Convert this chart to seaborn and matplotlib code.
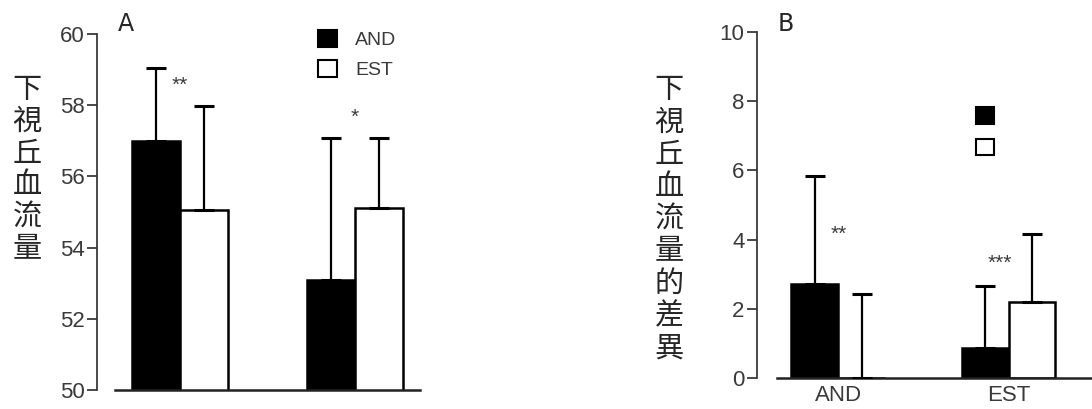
import numpy as np
import pandas as pd
import matplotlib
matplotlib.use("Agg")
import matplotlib.pyplot as plt
import matplotlib.patches as mpatches
import seaborn as sns

# data
groups = ["AND", "EST"]
treats = ["AND", "EST"]

a_mean_and = [57.0, 53.1]
a_mean_est = [55.05, 55.1]
a_err_and = [2.05, 3.97]
a_err_est = [2.92, 1.97]
a_stars = ["**", "*"]
a_star_y = [58.55, 57.65]

b_mean_and = [2.72, 0.87]
b_mean_est = [0.0, 2.2]
b_err_and = [3.13, 1.8]
b_err_est = [2.43, 1.96]
b_stars = ["**", "***"]
b_star_y = [4.15, 3.3]
b_star_x = [0.0, 0.95]

a_ticks = [50, 52, 54, 56, 58, 60]
b_ticks = [0, 2, 4, 6, 8, 10]

ylab_a = "下視丘血流量"
ylab_b = "下視丘血流量的差異"

sns.set_style("white")
plt.rcParams['font.family'] = ['Liberation Sans', 'Noto Sans CJK TC', 'DejaVu Sans']

gray = "#3a3a3a"
pal = {"AND": "black", "EST": "white"}

W, H = 1092, 409
fig = plt.figure(figsize=(W / 100, H / 100), dpi=100)


def px_axes(x0, x1, ytop, ybot):
    return fig.add_axes([x0 / W, 1 - ybot / H, (x1 - x0) / W, (ybot - ytop) / H])


def make_df(m_and, m_est, e_and, e_est):
    rows = []
    for i, g in enumerate(groups):
        rows.append((g, "AND", m_and[i], e_and[i]))
        rows.append((g, "EST", m_est[i], e_est[i]))
    return pd.DataFrame(rows, columns=["group", "treat", "value", "err"])


def draw_panel(ax, df, ylim, ticks, offset_px):
    sns.barplot(data=df, x="group", y="value", hue="treat", order=groups,
                hue_order=treats, palette=pal, edgecolor="black", linewidth=1.8,
                width=0.55, errorbar=None, legend=False, saturation=1, ax=ax)
    for lvl, cont in zip(treats, ax.containers):
        sub = df[df.treat == lvl].set_index("group").loc[groups]
        xs = [b.get_x() + b.get_width() / 2 for b in cont]
        ax.errorbar(xs, sub["value"].values,
                    yerr=[np.zeros(len(xs)), sub["err"].values],
                    fmt="none", ecolor="black", elinewidth=1.6,
                    capsize=7, capthick=2.2, zorder=3)
    ax.set_ylim(*ylim)
    ax.set_yticks(ticks)
    ax.set_xlabel("")
    ax.set_ylabel("")
    sns.despine(ax=ax, top=True, right=True)
    ax.spines["left"].set_position(("outward", offset_px * 72 / 100))
    ax.spines["left"].set_color(gray)
    ax.spines["left"].set_linewidth(1.3)
    ax.spines["bottom"].set_color("#222222")
    ax.spines["bottom"].set_linewidth(1.8)
    ax.tick_params(axis="y", direction="out", length=7, width=1.3, color=gray,
                   labelsize=16, labelcolor=gray, pad=2, left=True)
    ax.patch.set_alpha(0)


def stacked_label(text, xc, y_first, pitch):
    # one CJK character per row, top to bottom
    for k, ch in enumerate(text):
        fig.text(xc / W, 1 - (y_first + k * pitch) / H, ch, fontsize=21,
                 ha="center", va="center", family=["Noto Sans CJK TC", "DejaVu Sans"])


# panel A
axA = px_axes(115, 420, 34, 390)
dfA = make_df(a_mean_and, a_mean_est, a_err_and, a_err_est)
draw_panel(axA, dfA, (50, 60), a_ticks, 18)
axA.set_xlim(-0.37, 1.37)
axA.set_xticks([])
for i, s in enumerate(a_stars):
    axA.text(i, a_star_y[i], s, ha="center", va="center", fontsize=15, color=gray)

handles = [mpatches.Patch(facecolor=pal[t], edgecolor="black", linewidth=1.5) for t in treats]
legA = axA.legend(handles, treats, loc="upper left",
                  bbox_to_anchor=(318 / W, 1 - 30 / H), bbox_transform=fig.transFigure,
                  frameon=False, fontsize=14, handlelength=1.0, handleheight=1.0,
                  handletextpad=0.9, labelspacing=0.55, borderpad=0, borderaxespad=0)
for t in legA.get_texts():
    t.set_color(gray)

# panel B
axB = px_axes(777, 1092, 32, 378)
dfB = make_df(b_mean_and, b_mean_est, b_err_and, b_err_est)
draw_panel(axB, dfB, (0, 10), b_ticks, 20)
axB.set_xlim(-0.36, 1.49)
axB.tick_params(axis="x", length=0, labelsize=16, labelcolor=gray, pad=5)
for i, s in enumerate(b_stars):
    axB.text(b_star_x[i], b_star_y[i], s, ha="center", va="center", fontsize=15, color=gray)

legB = axB.legend(handles, ["", ""], loc="upper left",
                  bbox_to_anchor=(976 / W, 1 - 107 / H), bbox_transform=fig.transFigure,
                  frameon=False, fontsize=14, handlelength=0.95, handleheight=0.95,
                  handletextpad=0, labelspacing=0.65, borderpad=0, borderaxespad=0)

# panel letters
fig.text(118 / W, 1 - 24 / H, "A", fontsize=17, ha="left", va="center", family="DejaVu Sans")
fig.text(778 / W, 1 - 24 / H, "B", fontsize=17, ha="left", va="center", family="DejaVu Sans")

# stacked vertical y labels
stacked_label(ylab_a, 27, 90, 31.8)
stacked_label(ylab_b, 669, 90, 32.3)

fig.savefig("out.png", dpi=100, facecolor="white")
